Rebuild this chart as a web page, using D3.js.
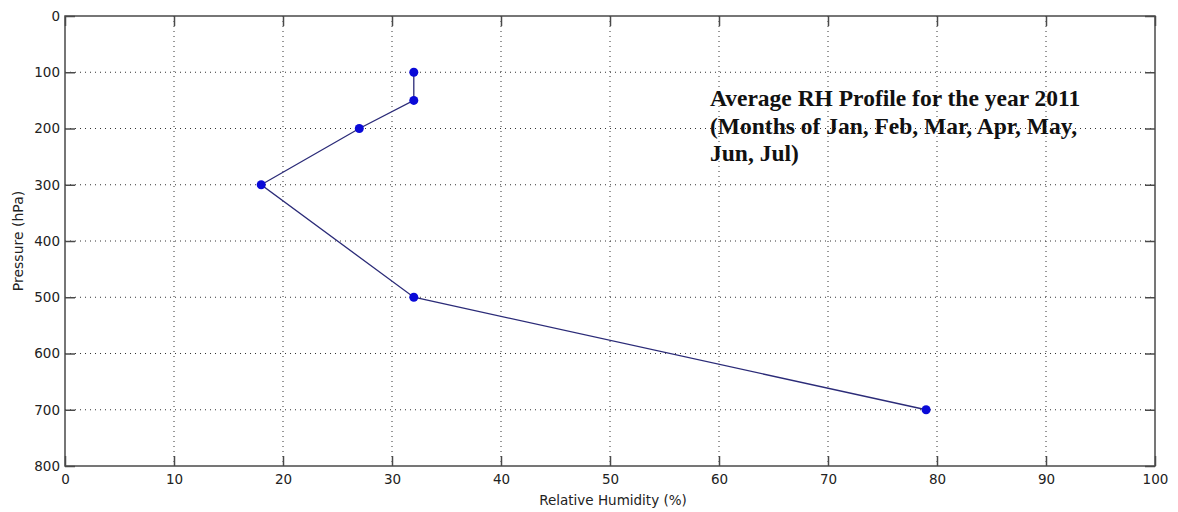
<!DOCTYPE html>
<html>
<head>
<meta charset="utf-8">
<script src="https://cdn.jsdelivr.net/npm/d3@7"></script>
<style>
  html, body { margin: 0; padding: 0; background: #fff; }
  svg { display: block; }
  .tick text { font-family: "DejaVu Sans", "Liberation Sans", sans-serif; font-size: 13.5px; fill: #222; }
</style>
</head>
<body>
<svg id="chart" width="1178" height="512"></svg>
<script>
// Average relative-humidity profile, Jan–Jul 2011
const pressureLevels = [100, 150, 200, 300, 500, 700];   // hPa
const humidityValues = [32, 32, 27, 18, 32, 79];         // %
const xTicks = [0, 10, 20, 30, 40, 50, 60, 70, 80, 90, 100];
const yTicks = [0, 100, 200, 300, 400, 500, 600, 700, 800];
const titleLines = [
  "Average RH Profile for the year 2011",
  "(Months of Jan, Feb, Mar, Apr, May,",
  "Jun, Jul)"
];

const svg = d3.select("#chart");
const margin = { left: 65, top: 16, right: 1155, bottom: 466 };

const x = d3.scaleLinear().domain([0, 100]).range([margin.left, margin.right]);
const y = d3.scaleLinear().domain([0, 800]).range([margin.top, margin.bottom]);

const plotW = margin.right - margin.left;
const plotH = margin.bottom - margin.top;
const axisColor = "#4a4a4a";

// dotted grid
const grid = svg.append("g");
grid.selectAll("line.vg").data(xTicks.slice(1, -1)).join("line")
  .attr("x1", d => x(d)).attr("x2", d => x(d))
  .attr("y1", margin.top).attr("y2", margin.bottom)
  .attr("stroke", "#333").attr("stroke-width", 1)
  .attr("stroke-dasharray", "1,4");
grid.selectAll("line.hg").data(yTicks.slice(1, -1)).join("line")
  .attr("y1", d => y(d)).attr("y2", d => y(d))
  .attr("x1", margin.left).attr("x2", margin.right)
  .attr("stroke", "#333").attr("stroke-width", 1)
  .attr("stroke-dasharray", "1,4");

// axes with inward ticks
const tickLen = 10;
const bottomAxis = svg.append("g").attr("transform", `translate(0,${margin.bottom})`)
  .call(d3.axisBottom(x).tickValues(xTicks).tickSize(-tickLen).tickPadding(8).tickFormat(d3.format("d")));
const leftAxis = svg.append("g").attr("transform", `translate(${margin.left},0)`)
  .call(d3.axisLeft(y).tickValues(yTicks).tickSize(-tickLen).tickPadding(5).tickFormat(d3.format("d")));
const topAxis = svg.append("g").attr("transform", `translate(0,${margin.top})`)
  .call(d3.axisTop(x).tickValues(xTicks).tickSize(-tickLen).tickFormat(""));
const rightAxis = svg.append("g").attr("transform", `translate(${margin.right},0)`)
  .call(d3.axisRight(y).tickValues(yTicks).tickSize(-tickLen).tickFormat(""));

[bottomAxis, leftAxis, topAxis, rightAxis].forEach(g => {
  g.select(".domain").remove();
  g.selectAll(".tick line").attr("stroke", axisColor).attr("stroke-width", 1.5);
});

// box
svg.append("rect")
  .attr("x", margin.left).attr("y", margin.top)
  .attr("width", plotW).attr("height", plotH)
  .attr("fill", "none").attr("stroke", axisColor).attr("stroke-width", 1.5);

// profile line
const points = pressureLevels.map((p, i) => ({ p, rh: humidityValues[i] }));
svg.append("path")
  .datum(points)
  .attr("fill", "none")
  .attr("stroke", "#2b2b78")
  .attr("stroke-width", 1.3)
  .attr("d", d3.line().x(d => x(d.rh)).y(d => y(d.p)));

svg.selectAll("circle.pt").data(points).join("circle")
  .attr("cx", d => x(d.rh)).attr("cy", d => y(d.p))
  .attr("r", 4.5).attr("fill", "#0a0ad8");

// axis labels
svg.append("text")
  .attr("x", (margin.left + margin.right) / 2 + 3).attr("y", 505)
  .attr("text-anchor", "middle")
  .attr("font-family", "DejaVu Sans, sans-serif").attr("font-size", 13.5)
  .attr("fill", "#222")
  .text("Relative Humidity (%)");
svg.append("text")
  .attr("transform", `translate(23,${(margin.top + margin.bottom) / 2}) rotate(-90)`)
  .attr("text-anchor", "middle")
  .attr("font-family", "DejaVu Sans, sans-serif").attr("font-size", 14)
  .attr("fill", "#222")
  .text("Pressure (hPa)");

// title block inside the plot
const title = svg.append("text")
  .attr("font-family", "Liberation Serif, Times New Roman, serif")
  .attr("font-weight", "bold").attr("font-size", 23.5)
  .attr("fill", "#111");
title.selectAll("tspan").data(titleLines).join("tspan")
  .attr("x", 710).attr("y", (d, i) => 106 + i * 27.5)
  .text(d => d);
</script>
</body>
</html>
